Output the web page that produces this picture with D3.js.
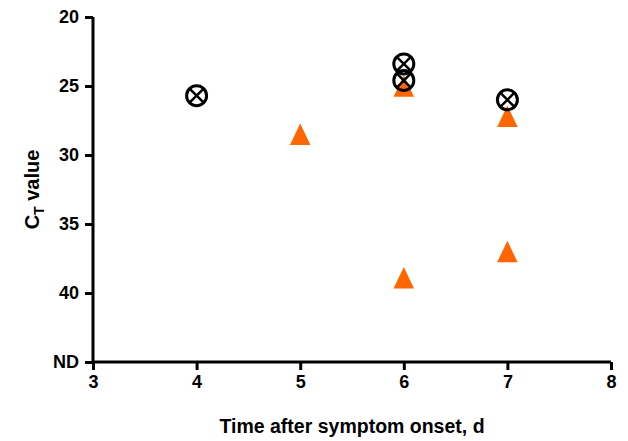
<!DOCTYPE html>
<html>
<head>
<meta charset="utf-8">
<script src="https://cdn.jsdelivr.net/npm/d3@7"></script>
<style>
  body { margin: 0; background: #fff; }
  text { font-family: "Liberation Sans", Arial, sans-serif; }
</style>
</head>
<body>
<div id="chart"></div>
<script>
// detected (circle with x) samples
const circleDays = [4, 6, 6, 7]
const circleCt = [25.7, 23.4, 24.6, 26.0]
// triangle samples
const triDays = [5, 6, 6, 7, 7]
const triCt = [28.5, 25.0, 38.9, 27.2, 37.0]

const xTicks = [3, 4, 5, 6, 7, 8]
const yTicks = [20, 25, 30, 35, 40, 45]
const ndValue = 45

const width = 628
const height = 441

const svg = d3.select('#chart').append('svg')
    .attr('width', width)
    .attr('height', height)

const x = d3.scaleLinear().domain([3, 8]).range([93, 611])
const y = d3.scaleLinear().domain([20, 45]).range([17, 362])

const styleTicks = g => g.selectAll('.tick text')
    .attr('font-size', 18)
    .attr('font-weight', 'bold')
    .attr('font-family', '"Liberation Sans", Arial, sans-serif')
    .attr('fill', '#000')

svg.append('g')
    .attr('transform', `translate(0,${y(ndValue)})`)
    .call(d3.axisBottom(x).tickValues(xTicks).tickSize(8).tickPadding(5).tickFormat(d3.format('d')))
    .call(g => g.select('.domain').attr('stroke-width', 3).attr('d', `M${x(3)},0H${x(8)}`))
    .call(g => g.selectAll('.tick line').attr('stroke-width', 3))
    .call(styleTicks)

svg.append('g')
    .attr('transform', `translate(${x(3)},0)`)
    .call(d3.axisLeft(y).tickValues(yTicks).tickSize(8).tickPadding(6)
        .tickFormat(d => d === ndValue ? 'ND' : d))
    .call(g => g.select('.domain').attr('stroke-width', 3).attr('d', `M0,${y(20)}V${y(45)}`))
    .call(g => g.selectAll('.tick line').attr('stroke-width', 3))
    .call(styleTicks)

// axis titles
svg.append('text')
    .attr('x', 352)
    .attr('y', 433)
    .attr('text-anchor', 'middle')
    .attr('font-size', 19.5)
    .attr('font-weight', 'bold')
    .text('Time after symptom onset, d')

const yTitle = svg.append('text')
    .attr('transform', `translate(39,${(y(20) + y(45)) / 2}) rotate(-90)`)
    .attr('text-anchor', 'middle')
    .attr('font-size', 20)
    .attr('font-weight', 'bold')
yTitle.append('tspan').text('C')
yTitle.append('tspan').attr('font-size', 14).attr('dy', 5).text('T')
yTitle.append('tspan').attr('dy', -5).text(' value')

// triangle centred on its bounding box
const triangleBox = {
    draw(context, size) {
        const w = Math.sqrt(size)
        const h = w * 1.05
        context.moveTo(0, -h / 2)
        context.lineTo(w / 2, h / 2)
        context.lineTo(-w / 2, h / 2)
        context.closePath()
    }
}
const tri = d3.symbol().type(triangleBox).size(420)
svg.append('g').selectAll('path')
    .data(triDays.map((d, i) => ({day: d, ct: triCt[i]})))
    .join('path')
    .attr('transform', d => `translate(${x(d.day)},${y(d.ct)})`)
    .attr('d', tri)
    .attr('fill', '#ff6600')

// circles with x
const r = 10
const cg = svg.append('g').selectAll('g')
    .data(circleDays.map((d, i) => ({day: d, ct: circleCt[i]})))
    .join('g')
    .attr('transform', d => `translate(${x(d.day)},${y(d.ct)})`)
cg.append('circle')
    .attr('r', r)
    .attr('fill', 'none')
    .attr('stroke', '#000')
    .attr('stroke-width', 3)
const k = r * Math.SQRT1_2
cg.append('path')
    .attr('d', `M${-k},${-k}L${k},${k}M${-k},${k}L${k},${-k}`)
    .attr('stroke', '#000')
    .attr('stroke-width', 2.5)
</script>
</body>
</html>
